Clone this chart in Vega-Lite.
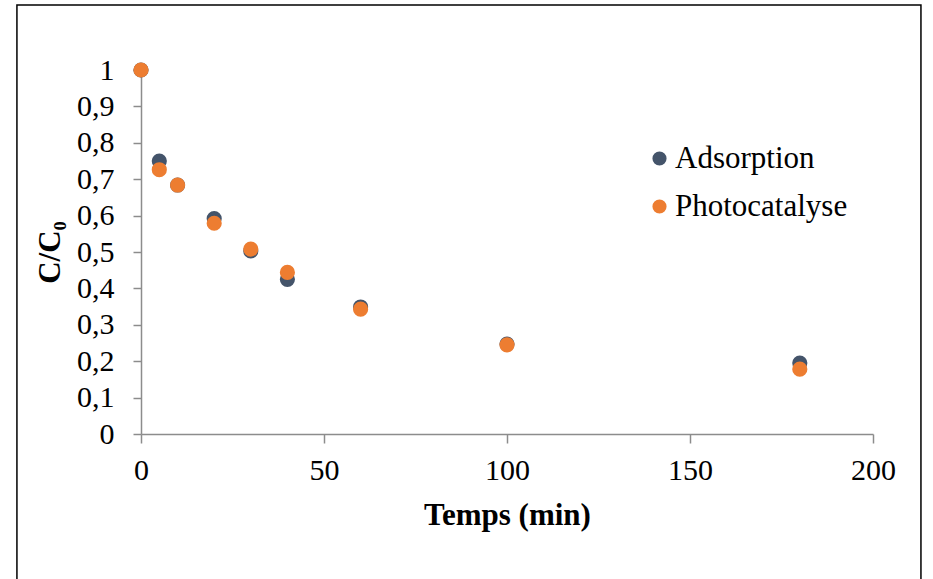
{
  "$schema": "https://vega.github.io/schema/vega-lite/v6.json",
  "width": 732,
  "height": 364,
  "autosize": {"type": "none"},
  "padding": {"left": 141, "top": 70, "right": 60, "bottom": 145},
  "background": "white",
  "config": {
    "view": {"stroke": null},
    "font": "Liberation Serif",
    "locale": {"number": {"decimal": ",", "thousands": " ", "grouping": [3], "currency": ["", " €"]}},
    "axis": {"labelOverlap": false, "labelFlush": false, "grid": false, "labelSeparation": 0}
  },
  "layer": [
    {
      "data": {
        "values": [
          {"t": 0, "c": 1.0, "serie": "Adsorption"},
          {"t": 5, "c": 0.75, "serie": "Adsorption"},
          {"t": 10, "c": 0.684, "serie": "Adsorption"},
          {"t": 20, "c": 0.592, "serie": "Adsorption"},
          {"t": 30, "c": 0.503, "serie": "Adsorption"},
          {"t": 40, "c": 0.425, "serie": "Adsorption"},
          {"t": 60, "c": 0.349, "serie": "Adsorption"},
          {"t": 100, "c": 0.247, "serie": "Adsorption"},
          {"t": 180, "c": 0.195, "serie": "Adsorption"},
          {"t": 0, "c": 1.0, "serie": "Photocatalyse"},
          {"t": 5, "c": 0.726, "serie": "Photocatalyse"},
          {"t": 10, "c": 0.684, "serie": "Photocatalyse"},
          {"t": 20, "c": 0.579, "serie": "Photocatalyse"},
          {"t": 30, "c": 0.508, "serie": "Photocatalyse"},
          {"t": 40, "c": 0.444, "serie": "Photocatalyse"},
          {"t": 60, "c": 0.343, "serie": "Photocatalyse"},
          {"t": 100, "c": 0.245, "serie": "Photocatalyse"},
          {"t": 180, "c": 0.178, "serie": "Photocatalyse"}
        ]
      },
      "mark": {"type": "point", "filled": true, "opacity": 1, "size": 230, "shape": "circle", "clip": false},
      "encoding": {
        "x": {
          "field": "t", "type": "quantitative",
          "scale": {"domain": [0, 200], "nice": false},
          "axis": {
            "title": "Temps (min)",
            "values": [0, 50, 100, 150, 200],
            "labelOverlap": false,
            "domainColor": "#8c8c8c", "domainWidth": 1.5,
            "tickColor": "#8c8c8c", "tickWidth": 1.5, "tickSize": 9,
            "labelFont": "Liberation Serif", "labelFontSize": 30, "labelColor": "black", "labelPadding": 12,
            "titleFont": "Liberation Serif", "titleFontSize": 31, "titleFontWeight": "bold", "titleColor": "black", "titlePadding": 15
          }
        },
        "y": {
          "field": "c", "type": "quantitative",
          "scale": {"domain": [0, 1], "nice": false},
          "axis": {
            "title": "C/C₀",
            "values": [0, 0.1, 0.2, 0.3, 0.4, 0.5, 0.6, 0.7, 0.8, 0.9, 1],
            "format": ".1~f",
            "labelOverlap": false,
            "domainColor": "#8c8c8c", "domainWidth": 1.5,
            "tickColor": "#8c8c8c", "tickWidth": 1.5, "tickSize": 8,
            "labelFont": "Liberation Serif", "labelFontSize": 30, "labelColor": "black", "labelPadding": 19,
            "titleFont": "Liberation Serif", "titleFontSize": 31, "titleFontWeight": "bold", "titleColor": "black", "titlePadding": 10
          }
        },
        "color": {
          "field": "serie", "type": "nominal",
          "scale": {"domain": ["Adsorption", "Photocatalyse"], "range": ["#44546A", "#ED7D31"]},
          "legend": {
            "title": null,
            "orient": "none", "legendX": 503, "legendY": 73,
            "labelFont": "Liberation Serif", "labelFontSize": 31, "labelColor": "black", "labelLimit": 400,
            "symbolType": "circle", "symbolSize": 200, "rowPadding": 16, "labelOffset": 0
          }
        }
      }
    },
    {
      "data": {"values": [{}]},
      "mark": {"type": "rect", "fill": null, "stroke": "black", "strokeWidth": 1.5, "clip": false},
      "encoding": {
        "x": {
          "datum": -33.9, "type": "quantitative",
          "axis": {
            "title": "Temps (min)",
            "values": [0, 50, 100, 150, 200],
            "labelOverlap": false,
            "domainColor": "#8c8c8c", "domainWidth": 1.5,
            "tickColor": "#8c8c8c", "tickWidth": 1.5, "tickSize": 9,
            "labelFont": "Liberation Serif", "labelFontSize": 30, "labelColor": "black", "labelPadding": 12,
            "titleFont": "Liberation Serif", "titleFontSize": 31, "titleFontWeight": "bold", "titleColor": "black", "titlePadding": 15
          }
        },
        "x2": {"datum": 213.1},
        "y": {
          "datum": 1.1786, "type": "quantitative",
          "axis": {
            "title": "C/C₀",
            "values": [0, 0.1, 0.2, 0.3, 0.4, 0.5, 0.6, 0.7, 0.8, 0.9, 1],
            "format": ".1~f",
            "labelOverlap": false,
            "domainColor": "#8c8c8c", "domainWidth": 1.5,
            "tickColor": "#8c8c8c", "tickWidth": 1.5, "tickSize": 8,
            "labelFont": "Liberation Serif", "labelFontSize": 30, "labelColor": "black", "labelPadding": 19,
            "titleFont": "Liberation Serif", "titleFontSize": 31, "titleFontWeight": "bold", "titleColor": "black", "titlePadding": 10
          }
        },
        "y2": {"datum": -0.5}
      }
    }
  ]
}
